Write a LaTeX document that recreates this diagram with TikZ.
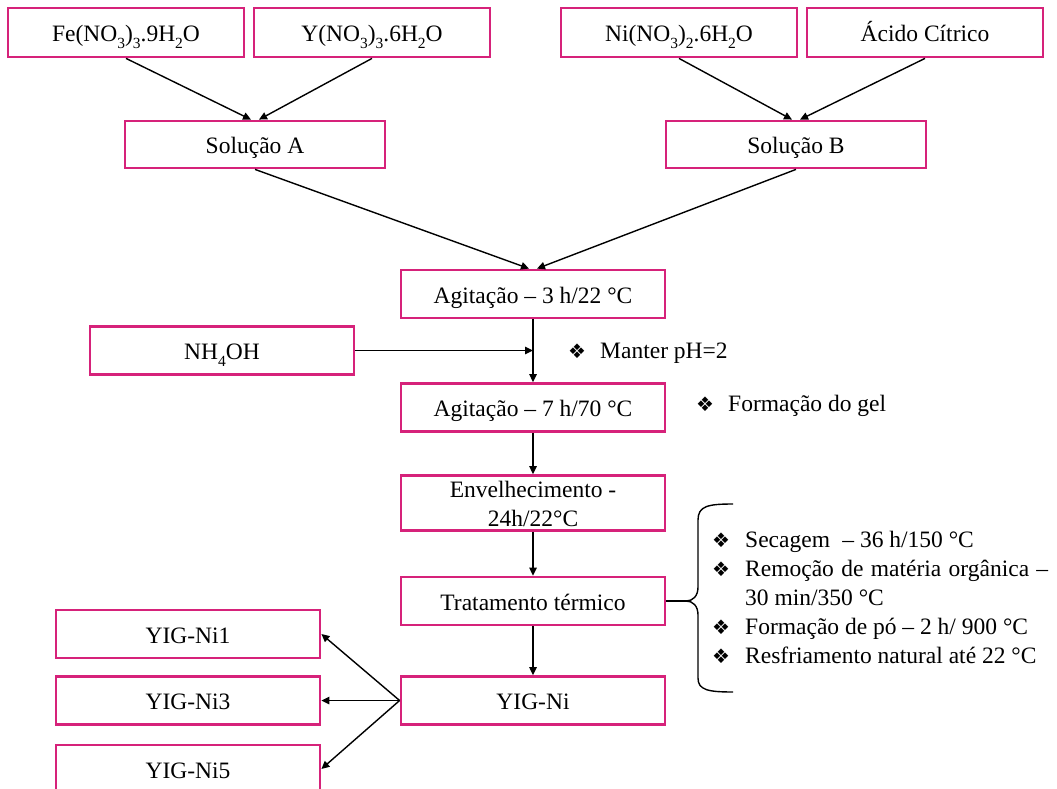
\documentclass[tikz,border=0pt]{standalone}
\usepackage{fontspec}
\setmainfont{Liberation Serif}
\newfontfamily\symf{DejaVu Sans}
\usetikzlibrary{arrows.meta,calc}
\definecolor{boxpink}{RGB}{214,34,122}
\newcommand\sbs[1]{\raisebox{-0.28em}[0pt][0pt]{\fontsize{15.5}{15.5}\selectfont #1}}
\newcommand\bul{\makebox[14pt][l]{\symf\fontsize{20}{20}\selectfont ❖}}
\begin{document}
\begin{tikzpicture}[x=1pt,y=-1pt,
  every node/.style={font=\fontsize{23.5}{29}\selectfont},
  boxbase/.style={draw=boxpink, line width=2.8pt, inner sep=0pt, minimum width=264pt, minimum height=48pt, align=center},
  procbox/.style={boxbase, text height=22pt, text depth=4pt},
  inbox/.style={procbox, minimum width=236pt, minimum height=49pt},
  conn/.style={line width=1.4pt, -{Triangle[length=8pt,width=7.5pt]}},
  plain/.style={line width=1.4pt}]
\useasboundingbox (0,0) rectangle (1057,789);
% inputs
\node[inbox] (fe) at (126,32.5) {Fe(NO\sbs{3})\sbs{3}.9H\sbs{2}O};
\node[inbox] (yn) at (372,32.5) {Y(NO\sbs{3})\sbs{3}.6H\sbs{2}O};
\node[inbox] (ni) at (679,32.5) {Ni(NO\sbs{3})\sbs{2}.6H\sbs{2}O};
\node[inbox] (ac) at (925,32.5) {Ácido Cítrico};
\node[procbox, minimum width=260pt, minimum height=47pt] (sa) at (255,144.5) {Solução A};
\node[procbox, minimum width=260pt, minimum height=47pt] (sb) at (796,144.5) {Solução B};
% main chain
\node[procbox] (ag1) at (533,294) {Agitação -- 3 h/22 °C};
\node[procbox] (nh) at (222,350.5) {NH\sbs{4}OH};
\node[procbox] (ag2) at (533,407.5) {Agitação -- 7 h/70 °C};
\node[boxbase, minimum height=55pt] (env) at (533,503) {\rule{0pt}{19pt}Envelhecimento -\\24h/22°C};
\node[procbox] (tt) at (533,601) {Tratamento térmico};
\node[procbox] (yig) at (533,700.5) {YIG-Ni};
\node[procbox] (y1) at (188,634) {YIG-Ni1};
\node[procbox] (y3) at (188,700.5) {YIG-Ni3};
\node[procbox] (y5) at (188,769) {YIG-Ni5};
% notes
\node[anchor=west, inner sep=0pt] (n1) at (568,353) {\bul\hspace{18pt}Manter pH=2};
\node[anchor=west, inner sep=0pt] (n2) at (696,406) {\bul\hspace{18pt}Formação do gel};
\node[anchor=north west, inner sep=0pt, align=left] (n3) at (712,527) {%
  \begin{tabular}{@{}l@{\hspace{19pt}}l@{}}
  \bul & Secagem\; -- 36 h/150 °C\\
  \bul & \makebox[303pt][s]{Remoção de matéria orgânica --}\\
       & 30 min/350 °C\\
  \bul & Formação de pó -- 2 h/ 900 °C\\
  \bul & Resfriamento natural até 22 °C
  \end{tabular}};
% connectors
\draw[conn] (fe.south) -- ([xshift=-4pt]sa.north);
\draw[conn] (yn.south) -- ([xshift=4pt]sa.north);
\draw[conn] (ni.south) -- ([xshift=-4pt]sb.north);
\draw[conn] (ac.south) -- ([xshift=4pt]sb.north);
\draw[conn] (sa.south) -- ([xshift=-4pt]ag1.north);
\draw[conn] (sb.south) -- ([xshift=4pt]ag1.north);
\draw[conn] (ag1.south) -- (ag2.north);
\draw[conn] (nh.east) -- (ag1.south |- nh.east);
\draw[conn] (ag2.south) -- (env.north);
\draw[conn] (env.south) -- (tt.north);
\draw[conn] (tt.south) -- (yig.north);
\draw[conn] (yig.west) -- (y1.east);
\draw[conn] (yig.west) -- (y3.east);
\draw[conn] (yig.west) -- (y5.east);
% brace
\coordinate (tip) at (686,601);
\draw[plain] (tt.east) -- (tip);
\draw[plain] (733,504) .. controls (708,504) and (698,506) .. (698,520) -- (698,587)
  .. controls (698,596) and (693,601) .. (tip)
  .. controls (693,601) and (698,606) .. (698,615) -- (698,678)
  .. controls (698,690) and (708,692) .. (733,692);
\end{tikzpicture}
\end{document}
